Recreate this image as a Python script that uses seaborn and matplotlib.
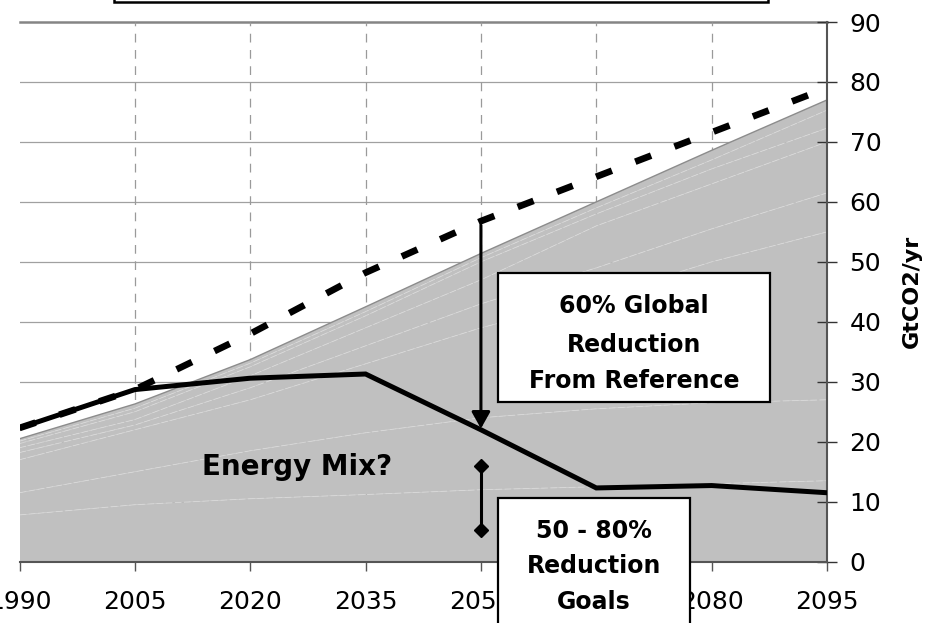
import numpy as np
import matplotlib
matplotlib.use("Agg")
import matplotlib.pyplot as plt
from matplotlib.patches import Rectangle
import seaborn as sns

# ---------------- data ----------------
years = [1990, 2005, 2020, 2035, 2050, 2065, 2080, 2095]

# stacked energy-mix layers (GtCO2/yr)
layer_1 = [7.8, 9.5, 10.5, 11.2, 12.0, 12.5, 13.0, 13.5]
layer_2 = [3.7, 5.5, 8.0, 10.3, 12.0, 13.0, 13.5, 13.5]
layer_3 = [5.5, 7.0, 8.5, 11.5, 15.0, 18.5, 23.5, 28.0]
layer_4 = [1.2, 0.8, 2.0, 3.0, 4.0, 5.0, 5.5, 6.5]
layer_5 = [0.8, 0.9, 2.0, 3.0, 4.0, 7.0, 7.5, 8.5]
layer_6 = [0.7, 1.3, 1.5, 2.0, 3.0, 2.0, 2.5, 2.3]
layer_7 = [0.4, 0.6, 0.6, 0.7, 0.7, 1.0, 1.5, 3.0]
layer_8 = [0.4, 0.7, 0.6, 0.8, 0.7, 1.0, 1.6, 1.7]

reference_emissions = [22.3, 28.7, 38.0, 48.2, 56.8, 64.2, 71.6, 79.0]
target_emissions = [22.3, 28.7, 30.6, 31.3, 22.0, 12.3, 12.7, 11.5]

goal_range = [16.0, 5.3]          # 50-80% reduction goal bar at 2050
y_ticks = [0, 10, 20, 30, 40, 50, 60, 70, 80, 90]
x_tick_labels = ["1990", "2005", "2020", "2035", "2050", "2065", "2080", "2095"]

energy_label = "Energy Mix?"
box1_lines = ["60% Global", "Reduction", "From Reference"]
box2_lines = ["50 - 80%", "Reduction", "Goals"]
y_label = "GtCO2/yr"

# ---------------- figure ----------------
plt.rcParams["font.family"] = ["DejaVu Sans"]
fig = plt.figure(figsize=(9.43, 6.23), dpi=100)
ax = fig.add_axes([19.5 / 943, (623 - 561.7) / 623, (827 - 19.5) / 943, (561.7 - 22) / 623])

ax.set_xlim(years[0], years[-1])
ax.set_ylim(y_ticks[0], y_ticks[-1])

# gridlines
for v in y_ticks[1:-1]:
    ax.axhline(v, color="#a0a0a0", lw=0.9, zorder=0)
ax.axhline(y_ticks[-1], color="#858585", lw=1.8, zorder=0, clip_on=False)
for x in years[1:-1]:
    ax.axvline(x, color="#9a9a9a", lw=0.9, ls=(0, (7, 6)), zorder=0)

# stacked area
layers = np.array([layer_1, layer_2, layer_3, layer_4, layer_5, layer_6, layer_7, layer_8])
ax.stackplot(years, layers, colors=["#c0c0c0"] * len(layers), lw=0, zorder=1)
cum = np.cumsum(layers, axis=0)
for row in cum[:-1]:
    ax.plot(years, row, color="#d9d9d9", lw=0.6, ls=(0, (8, 3)), zorder=1.5)
ax.plot(years, cum[-1], color="#8c8c8c", lw=1.0, zorder=1.6)

# lines
sns.lineplot(x=years, y=reference_emissions, color="black", lw=4.8, ax=ax, zorder=3)
ax.lines[-1].set_dashes([2.55, 3.75])
ax.lines[-1].set_dash_capstyle("butt")
sns.lineplot(x=years, y=target_emissions, color="black", lw=3.6, ax=ax, zorder=3.1)
ax.lines[-1].set_solid_joinstyle("miter")

# arrow reference -> target at 2050
i50 = years.index(2050)
ax.annotate("", xy=(2050, target_emissions[i50] + 0.2), xytext=(2050, reference_emissions[i50] - 0.7),
            arrowprops=dict(arrowstyle="-|>,head_length=0.5,head_width=0.28", color="black",
                            lw=2.2, mutation_scale=20, shrinkA=0, shrinkB=0), zorder=4)
# goal range bar
ax.plot([2050, 2050], goal_range, color="black", lw=2.2, marker="D", ms=7.5, zorder=4)

# texts
ax.text(2026.1, 14.45, energy_label, fontsize=20, fontweight="bold", ha="center", va="baseline", zorder=4)

ax.add_patch(Rectangle((2052.2, 26.6), 35.4, 21.5, facecolor="white", edgecolor="black", lw=1.6, zorder=5))
for txt, yb in zip(box1_lines, [41.45, 34.95, 28.95]):
    ax.text(2069.9, yb, txt, fontsize=17, fontweight="bold", ha="center", va="baseline", zorder=6)

ax.add_patch(Rectangle((2052.2, -15), 25.0, 25.6, facecolor="white", edgecolor="black", lw=1.6,
                       zorder=5, clip_on=False))
for txt, yb in zip(box2_lines, [3.95, -1.93, -7.93]):
    ax.text(2064.7, yb, txt, fontsize=17, fontweight="bold", ha="center", va="baseline", zorder=6)

# top (cut-off) box
fig.add_artist(Rectangle((114 / 943, 1 - 2.3 / 623), (768 - 114) / 943, 0.1, transform=fig.transFigure,
                         facecolor="white", edgecolor="black", lw=1.8, clip_on=False))

# axes styling
ax.set_xticks(years)
ax.set_xticklabels(x_tick_labels)
ax.set_yticks(y_ticks)
ax.yaxis.tick_right()
ax.tick_params(axis="y", direction="inout", length=14.4, width=1.0, color="#333333",
               labelsize=18, pad=9)
ax.tick_params(axis="x", direction="out", length=6.5, width=1.0, color="#555555",
               labelsize=18, pad=14)
# the 2065 label sits fully behind the "Goals" box in the reference
ax.get_xticklabels()[years.index(2065)].set_visible(False)
for s in ["left", "top"]:
    ax.spines[s].set_visible(False)
for s in ["right", "bottom"]:
    ax.spines[s].set_color("#555555")
    ax.spines[s].set_linewidth(1.5)
    ax.spines[s].set_zorder(2.5)

ax.set_xlabel("")
ax.set_ylabel(y_label, fontsize=16, fontweight="bold")
ax.yaxis.set_label_position("right")
ax.yaxis.set_label_coords(1.093, 0.5)

fig.savefig("out.png", dpi=100)
